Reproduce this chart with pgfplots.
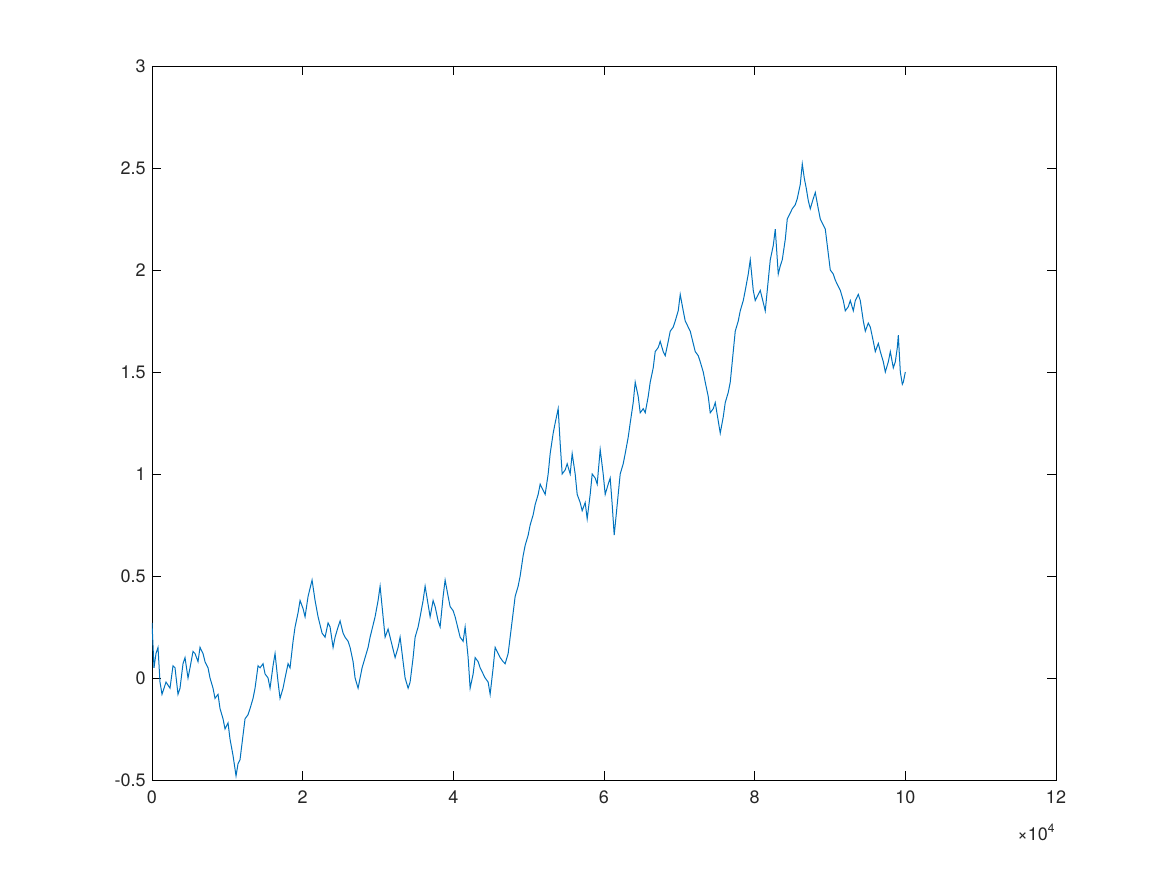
\documentclass[border=0pt]{standalone}
\usepackage{pgfplots}
\usepackage{pgfplotstable}
\pgfplotsset{compat=1.18}
\usepackage{fontspec}
\setmainfont{TeX Gyre Heros}
\definecolor{mblue}{RGB}{0,114,189}
\pgfplotstableread{
p y
152 0.27
154 0.05
156 0.12
158 0.15
160 -0.02
162 -0.08
166 -0.02
170 -0.05
173 0.06
175 0.05
178 -0.08
180 -0.05
183 0.07
185 0.1
188 0.0
190 0.05
193 0.13
195 0.12
198 0.08
200 0.15
203 0.12
205 0.08
208 0.05
210 0.0
213 -0.05
215 -0.1
218 -0.08
220 -0.15
223 -0.2
225 -0.25
228 -0.22
230 -0.3
233 -0.38
236 -0.48
238 -0.42
240 -0.4
243 -0.28
245 -0.2
248 -0.18
250 -0.15
253 -0.1
255 -0.05
258 0.06
260 0.05
263 0.07
265 0.02
268 0.0
270 -0.05
273 0.06
275 0.12
278 -0.02
280 -0.1
283 -0.05
285 0.0
288 0.07
290 0.05
293 0.18
295 0.25
298 0.32
300 0.38
303 0.34
305 0.3
308 0.4
312 0.48
315 0.38
318 0.3
322 0.22
325 0.2
328 0.27
330 0.25
333 0.15
335 0.2
338 0.25
340 0.28
343 0.22
345 0.2
348 0.18
350 0.15
353 0.08
355 0.0
358 -0.05
362 0.05
365 0.1
368 0.15
370 0.2
373 0.26
375 0.3
378 0.38
380 0.45
383 0.3
385 0.2
388 0.24
390 0.2
393 0.14
395 0.1
398 0.15
400 0.2
403 0.08
405 0.0
408 -0.05
410 -0.02
413 0.1
415 0.2
418 0.25
420 0.3
423 0.38
425 0.45
428 0.36
430 0.3
433 0.38
435 0.35
438 0.28
440 0.25
443 0.4
445 0.48
448 0.4
450 0.35
453 0.33
455 0.3
458 0.24
460 0.2
463 0.18
465 0.25
468 0.1
470 -0.05
473 0.02
475 0.1
478 0.08
480 0.05
483 0.02
485 0.0
488 -0.02
490 -0.08
493 0.05
495 0.15
498 0.12
500 0.1
503 0.08
505 0.07
508 0.12
510 0.2
513 0.32
515 0.4
518 0.45
520 0.5
523 0.6
525 0.65
528 0.7
530 0.75
533 0.8
535 0.85
538 0.9
540 0.95
543 0.92
545 0.9
548 1.0
550 1.1
553 1.2
555 1.25
558 1.32
560 1.15
562 1.0
565 1.02
567 1.05
570 1.0
572 1.1
575 1.0
577 0.9
580 0.86
582 0.82
585 0.86
587 0.78
590 0.9
592 1.0
595 0.98
597 0.95
600 1.12
603 1.0
605 0.9
608 0.95
610 0.98
612 0.85
614 0.7
617 0.85
620 1.0
623 1.05
625 1.1
628 1.18
630 1.25
633 1.35
635 1.45
638 1.38
640 1.3
643 1.32
645 1.3
648 1.38
650 1.45
653 1.52
655 1.6
658 1.62
660 1.65
663 1.6
665 1.58
668 1.65
670 1.7
673 1.72
675 1.75
678 1.8
680 1.88
683 1.8
685 1.75
688 1.72
690 1.7
693 1.64
695 1.6
698 1.58
700 1.55
703 1.5
705 1.45
708 1.38
710 1.3
713 1.32
715 1.35
718 1.26
720 1.2
723 1.28
725 1.35
728 1.4
730 1.45
733 1.6
735 1.7
738 1.75
740 1.8
743 1.85
745 1.9
748 1.98
750 2.05
753 1.9
755 1.85
758 1.88
760 1.9
763 1.84
765 1.8
768 1.95
770 2.05
773 2.12
775 2.2
778 1.98
780 2.02
782 2.05
785 2.15
787 2.25
790 2.28
792 2.3
795 2.32
797 2.35
800 2.42
802 2.52
804 2.45
806 2.4
808 2.34
810 2.3
813 2.35
815 2.38
818 2.3
820 2.25
823 2.22
825 2.2
828 2.08
830 2.0
833 1.98
835 1.95
838 1.92
840 1.9
843 1.85
845 1.8
848 1.82
850 1.85
853 1.8
855 1.85
858 1.88
860 1.85
863 1.75
865 1.7
868 1.74
870 1.72
873 1.65
875 1.6
878 1.64
880 1.6
883 1.55
885 1.5
888 1.55
890 1.6
893 1.52
895 1.55
897 1.62
898 1.68
900 1.5
902 1.44
903 1.45
905 1.5
}\walk
\begin{document}
\fontsize{9}{11}\selectfont
\begin{tikzpicture}
\begin{axis}[
  scale only axis, width=452pt, height=357pt,
  xmin=0, xmax=120000, ymin=-0.5, ymax=3,
  xtick={0,20000,40000,60000,80000,100000,120000},
  ytick={-0.5,0,0.5,1,1.5,2,2.5,3},
  yticklabels={-0.5,0,0.5,1,1.5,2,2.5,3},
  scaled x ticks=base 10:-4,
  xtick scale label code/.code={\textcolor{black!85}{×10\textsuperscript{4}}},
  every x tick scale label/.style={at={(1,0)},anchor=north east,yshift=-20pt,inner sep=0pt,font=\fontsize{9}{11}\selectfont},
  tick align=inside, tick style={black, line width=0.4pt},
  major tick length=4.5pt,
  axis line style={black, line width=0.4pt},
  /pgf/number format/assume math mode=true,
  tick label style={font=\fontsize{9}{11}\selectfont, text=black!85},
  xticklabel style={yshift=-2pt},
]
\addplot[mblue, line width=0.5pt] table[x expr=(\thisrow{p}-152)*132.8, y=y] {\walk};
\end{axis}
\path (current axis.south west) ++(-76pt,-47.5pt) coordinate (a);
\path (current axis.north east) ++(55.5pt,33pt) coordinate (b);
\useasboundingbox (a) rectangle (b);
\end{tikzpicture}
\end{document}
